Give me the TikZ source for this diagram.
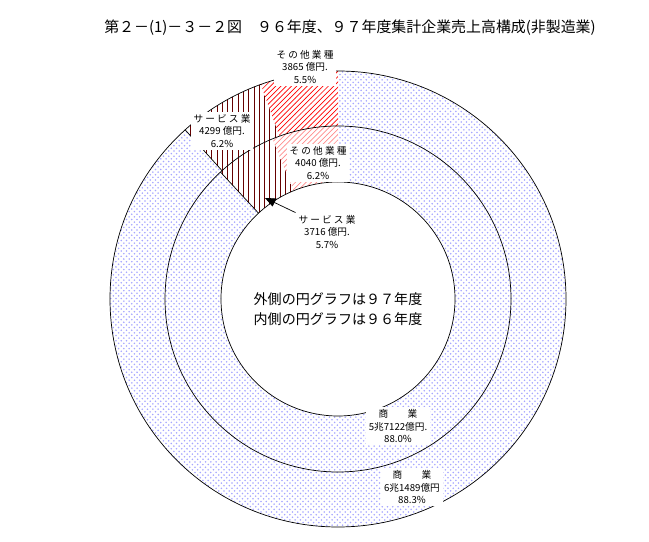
\documentclass[tikz,border=0pt]{standalone}
\usepackage{fontspec}
\setmainfont{Noto Sans CJK JP}
\usetikzlibrary{patterns,arrows.meta}
\tikzset{
    lbl/.style={
    fill=white,align=center,inner sep=1.5pt,font=\fontsize{5.5}{7}\selectfont
    },
    shop/.style={
    pattern=crosshatch dots,pattern color=blue!35
    },
    serv/.style={
    pattern=vertical lines,pattern color=red!40!black
    },
    other/.style={
    pattern=north east lines,pattern color=red
    },
    otherin/.style={
    pattern=north east lines,pattern color=red!45
    },
}
\newcommand{\ringpart}[5]{%
  \fill[#5] ([shift={(338,242)}]#1:#4) arc[start angle=#1,end angle=#2,radius=#4]
    -- ([shift={(338,242)}]#2:#3) arc[start angle=#2,end angle=#1,radius=#3] -- cycle;}
\begin{document}
\begin{tikzpicture}[x=0.02cm,y=0.02cm]
  \useasboundingbox (0,0) rectangle (649,541);
  % outer ring: 97
  \ringpart{90}{109.8}{173}{228}{other}
  \ringpart{109.8}{132.1}{173}{228}{serv}
  \ringpart{132.1}{450}{173}{228}{shop}
  % inner ring: 96
  \ringpart{90}{112.3}{117}{173}{otherin}
  \ringpart{112.3}{132.8}{117}{173}{serv}
  \ringpart{132.8}{450}{117}{173}{shop}
  \draw (338,242) circle[radius=228] (338,242) circle[radius=173] (338,242) circle[radius=117];
  \draw ([shift={(338,242)}]132.1:173) -- ([shift={(338,242)}]132.1:228);
  \draw ([shift={(338,242)}]132.8:117) -- ([shift={(338,242)}]132.8:173);

  \node[font=\fontsize{8.5}{10}\selectfont] (title) at (350,513) {第２－(1)－３－２図\quad ９６年度、９７年度集計企業売上高構成(非製造業)};
  \node[lbl] (oth97) at (305,474) {そ の 他 業 種\\3865 億円.\\5.5\%};
  \node[lbl] (srv97) at (222,410) {サ ー ビ ス 業\\4299 億円.\\6.2\%};
  \node[lbl] (oth96) at (318,378) {そ の 他 業 種\\4040 億円.\\6.2\%};
  \node[lbl] (srv96) at (327,309) {サ ー ビ ス 業\\3716 億円.\\5.7\%};
  \node[lbl] (shp96) at (398,115) {商\qquad 業\\5兆7122億円.\\88.0\%};
  \node[lbl] (shp97) at (412,54) {商\qquad 業\\6兆1489億円\\88.3\%};
  \node[font=\fontsize{8}{11}\selectfont,align=center] (note) at (338,232) {外側の円グラフは９７年度\\内側の円グラフは９６年度};
  \coordinate (tip) at (265,343);
  \draw[-{Triangle[length=6pt,width=5pt]}] (srv96.north west) -- (tip);
\end{tikzpicture}
\end{document}
